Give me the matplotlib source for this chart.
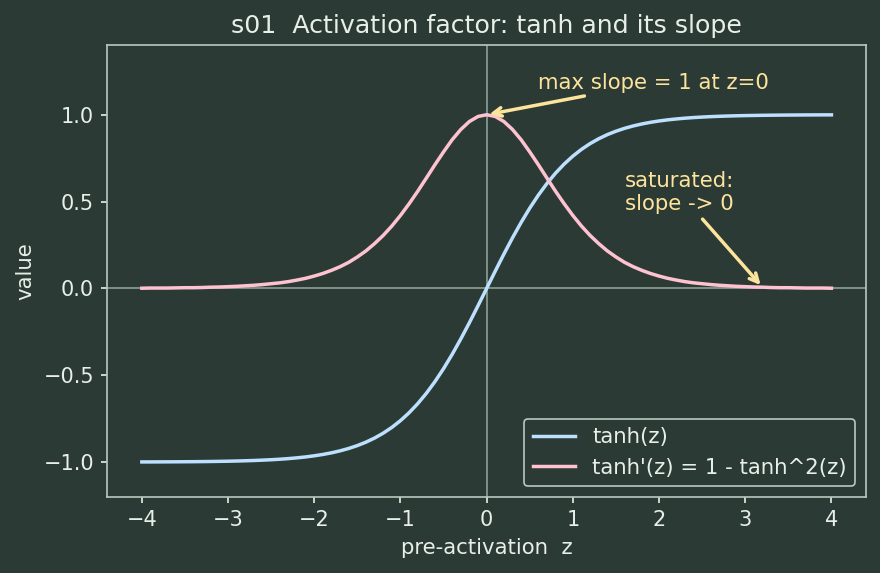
import numpy as np
import matplotlib.pyplot as plt

# z grid and curve values (step 0.1, -4 .. 4)
z = np.linspace(-4, 4, 81)

tanh_pos = [0.0000, 0.0997, 0.1974, 0.2913, 0.3799, 0.4621, 0.5370, 0.6044, 0.6640, 0.7163,
            0.7616, 0.8005, 0.8337, 0.8617, 0.8854, 0.9051, 0.9217, 0.9354, 0.9468, 0.9562,
            0.9640, 0.9705, 0.9757, 0.9801, 0.9837, 0.9866, 0.9890, 0.9910, 0.9926, 0.9940,
            0.9951, 0.9959, 0.9967, 0.9973, 0.9978, 0.9982, 0.9985, 0.9988, 0.9990, 0.9992,
            0.9993]
slope_pos = [1.000, 0.990, 0.961, 0.915, 0.856, 0.786, 0.712, 0.635, 0.559, 0.487,
             0.420, 0.359, 0.305, 0.258, 0.216, 0.181, 0.150, 0.125, 0.104, 0.086,
             0.071, 0.058, 0.048, 0.039, 0.032, 0.027, 0.022, 0.018, 0.015, 0.012,
             0.010, 0.008, 0.007, 0.005, 0.004, 0.004, 0.003, 0.002, 0.002, 0.002,
             0.001]

tanh_vals = [-v for v in tanh_pos[:0:-1]] + tanh_pos
slope_vals = slope_pos[:0:-1] + slope_pos

bg = "#2b3a35"
fg = "#e8efe9"
spine = "#b8cabf"
note = "#fde49c"

fig, ax = plt.subplots(figsize=(8.8, 5.73), dpi=100)
fig.patch.set_facecolor(bg)
ax.set_facecolor(bg)

ax.axhline(0, color=spine, lw=1.2, alpha=0.7)
ax.axvline(0, color=spine, lw=1.2, alpha=0.7)

ax.plot(z, tanh_vals, color="#bde0fe", lw=2.5, label="tanh(z)")
ax.plot(z, slope_vals, color="#ffc2d1", lw=2.5, label="tanh'(z) = 1 - tanh^2(z)")

ax.annotate("max slope = 1 at z=0", xy=(0, 1), xytext=(0.6, 1.15),
            color=note, fontsize=15.3,
            arrowprops=dict(arrowstyle="->", color=note, lw=2.5))
ax.annotate("saturated:\nslope -> 0", xy=(3.2, 0.007), xytext=(1.6, 0.45),
            color=note, fontsize=15.3,
            arrowprops=dict(arrowstyle="->", color=note, lw=2.5))

ax.set_ylim(-1.2, 1.4)
ax.set_title("s01  Activation factor: tanh and its slope", color=fg, fontsize=18.2, pad=9)
ax.set_xlabel("pre-activation  z", color=fg, fontsize=15.3, labelpad=6)
ax.set_ylabel("value", color=fg, fontsize=15.3, labelpad=6)
ax.tick_params(colors=fg, labelsize=15, length=4.5, width=1.2, pad=5)
for s in ax.spines.values():
    s.set_color(spine)
    s.set_linewidth(1.2)

leg = ax.legend(loc="lower right", fontsize=15.3, facecolor=bg, edgecolor=spine,
                labelcolor=fg, framealpha=1)
leg.get_frame().set_linewidth(1.2)

plt.subplots_adjust(left=0.122, right=0.984, top=0.921, bottom=0.133)
plt.savefig("out.png", dpi=100, facecolor=bg)
